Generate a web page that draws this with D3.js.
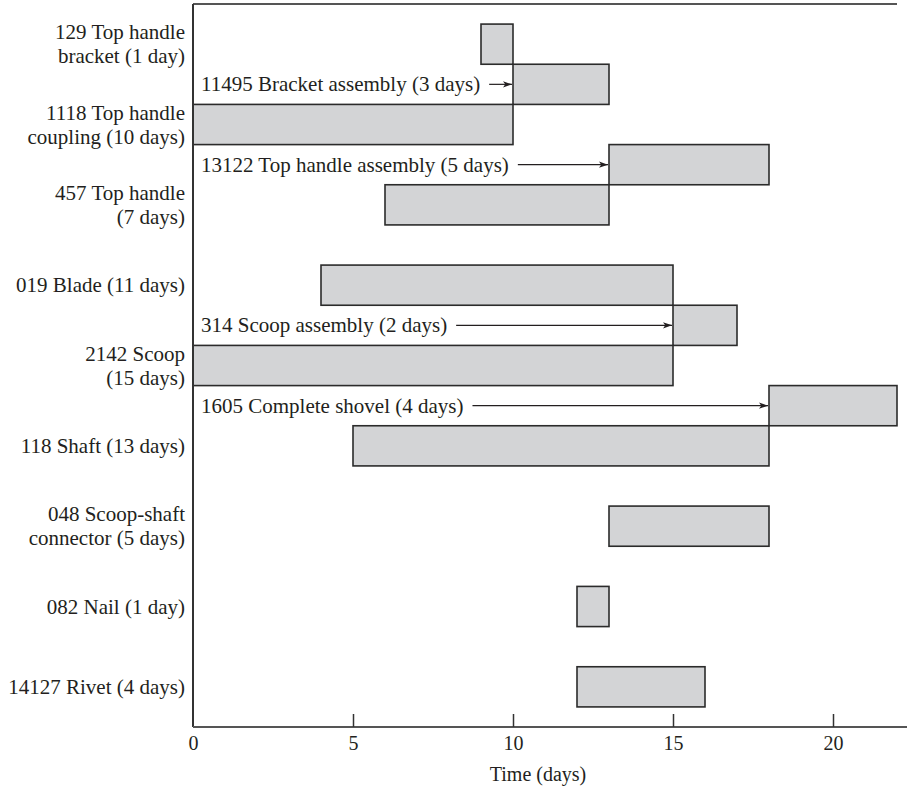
<!DOCTYPE html>
<html>
<head>
<meta charset="utf-8">
<script src="https://cdn.jsdelivr.net/npm/d3@7"></script>
<style>
  html, body { margin: 0; padding: 0; background: #fff; }
  svg { display: block; }
  text { font-family: "Liberation Serif", "Times New Roman", serif; fill: #231f20; }
</style>
</head>
<body>
<script>
// ---- data ----
const taskIds = ["129", "11495", "1118", "13122", "457", "019", "314", "2142", "1605", "118", "048", "082", "14127"];
const taskLabels = [
  ["129 Top handle", "bracket (1 day)"],
  ["11495 Bracket assembly (3 days)"],
  ["1118 Top handle", "coupling (10 days)"],
  ["13122 Top handle assembly (5 days)"],
  ["457 Top handle", "(7 days)"],
  ["019 Blade (11 days)"],
  ["314 Scoop assembly (2 days)"],
  ["2142 Scoop", "(15 days)"],
  ["1605 Complete shovel (4 days)"],
  ["118 Shaft (13 days)"],
  ["048 Scoop-shaft", "connector (5 days)"],
  ["082 Nail (1 day)"],
  ["14127 Rivet (4 days)"]
];
const startDays = [9, 10, 0, 13, 6, 4, 15, 0, 18, 5, 13, 12, 12];
const durations = [1, 3, 10, 5, 7, 11, 2, 15, 4, 13, 5, 1, 4];
const rowPositions = [0.5, 1.5, 2.5, 3.5, 4.5, 6.5, 7.5, 8.5, 9.5, 10.5, 12.5, 14.5, 16.5];
const isAssembly = [false, true, false, true, false, false, true, false, true, false, false, false, false];
const xTickValues = [0, 5, 10, 15, 20];
const xAxisTitle = "Time (days)";

// ---- layout ----
const W = 907, H = 789;
const plotLeft = 193, plotTop = 4, plotBottom = 727;
const x = d3.scaleLinear().domain([0, 22]).range([plotLeft, plotLeft + 22 * 32]);
const y = d3.scaleLinear().domain([0, 18]).range([plotTop, plotBottom]);

const svg = d3.select("body").append("svg").attr("width", W).attr("height", H);

const defs = svg.append("defs");
defs.append("marker")
  .attr("id", "arr").attr("viewBox", "0 0 10 10")
  .attr("refX", 10).attr("refY", 5)
  .attr("markerWidth", 9).attr("markerHeight", 9)
  .attr("markerUnits", "userSpaceOnUse")
  .attr("orient", "auto")
  .append("path").attr("d", "M0,1.5 L10,5 L0,8.5 L2.5,5 Z").attr("fill", "#231f20");

const tasks = taskIds.map((id, i) => ({
  id, lines: taskLabels[i], start: startDays[i], dur: durations[i],
  row: rowPositions[i], asm: isAssembly[i]
}));

// bars
svg.append("g").selectAll("rect").data(tasks).join("rect")
  .attr("x", d => x(d.start))
  .attr("y", d => y(d.row))
  .attr("width", d => x(d.start + d.dur) - x(d.start))
  .attr("height", d => y(d.row + 1) - y(d.row))
  .attr("fill", "#d3d4d6")
  .attr("stroke", "#2b2b2b")
  .attr("stroke-width", 1.6);

// frame: top line, left axis, bottom axis
svg.append("line").attr("x1", plotLeft).attr("x2", x(22)).attr("y1", plotTop).attr("y2", plotTop)
  .attr("stroke", "#555").attr("stroke-width", 2);
svg.append("line").attr("x1", plotLeft).attr("x2", plotLeft).attr("y1", plotTop).attr("y2", plotBottom)
  .attr("stroke", "#333").attr("stroke-width", 2);

const xAxis = d3.axisBottom(x).tickValues(xTickValues).tickSize(0).tickPadding(9).tickFormat(d3.format("d"));
const gx = svg.append("g").attr("transform", `translate(0,${plotBottom})`).call(xAxis);
gx.select(".domain").attr("d", `M${plotLeft},0H${W}`).attr("stroke", "#555").attr("stroke-width", 2.2);
gx.selectAll(".tick text").attr("font-size", 20).attr("fill", "#231f20")
  .attr("font-family", "Liberation Serif, Times New Roman, serif");
gx.selectAll(".tick").filter(d => d !== 0).append("line")
  .attr("y1", 0).attr("y2", -13).attr("stroke", "#333").attr("stroke-width", 1.5);

svg.append("text").attr("x", (x(0) + x(22)) / 2 - 7).attr("y", 781)
  .attr("text-anchor", "middle").attr("font-size", 20).text(xAxisTitle);

// left labels
const lineH = 24;
tasks.filter(d => !d.asm).forEach(d => {
  const cy = y(d.row + 0.5);
  const n = d.lines.length;
  d.lines.forEach((ln, j) => {
    svg.append("text")
      .attr("x", 185)
      .attr("y", cy + 7 + (j - (n - 1) / 2) * lineH)
      .attr("text-anchor", "end")
      .attr("font-size", 21)
      .text(ln);
  });
});

// assembly annotations with arrows
tasks.filter(d => d.asm).forEach(d => {
  const cy = y(d.row + 0.5);
  const t = svg.append("text")
    .attr("x", 201)
    .attr("y", cy + 7)
    .attr("font-size", 21)
    .text(d.lines[0]);
  const tEnd = 201 + t.node().getComputedTextLength();
  svg.append("line")
    .attr("x1", tEnd + 9).attr("x2", x(d.start) - 1)
    .attr("y1", cy).attr("y2", cy)
    .attr("stroke", "#231f20").attr("stroke-width", 1.2)
    .attr("marker-end", "url(#arr)");
});
</script>
</body>
</html>
